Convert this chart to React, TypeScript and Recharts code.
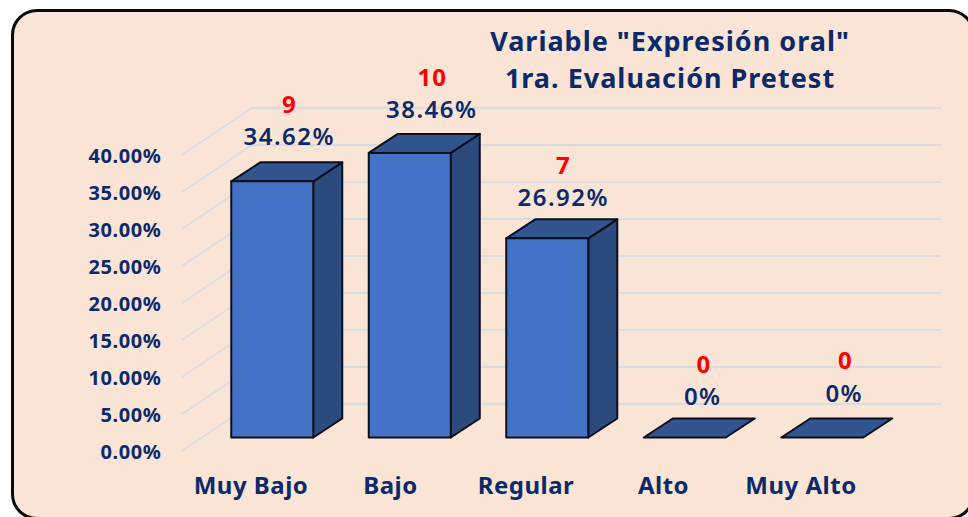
import React from "react";
import { BarChart, Bar, XAxis, YAxis, CartesianGrid, LabelList } from "recharts";

const categories = ["Muy Bajo", "Bajo", "Regular", "Alto", "Muy Alto"];
const percentages = [34.62, 38.46, 26.92, 0, 0];
const counts = [9, 10, 7, 0, 0];
const yTicks = [0, 5, 10, 15, 20, 25, 30, 35, 40];
const titleLines = ['Variable "Expresión oral"', "1ra. Evaluación Pretest"];

const rows = categories.map((cat, i) => ({ cat, pct: percentages[i], count: counts[i] }));

const FONT = "'Noto Sans', sans-serif";
const NAVY = "#0B2A6A";
const DX = 29;
const DY = 19;

// hand placement of the data labels and category labels, relative to each bar
const pctNudgeX = [-1, 4, -2, 0, 4];
const pctNudgeY = [-4, -2, 0, 0, -3];
const countNudgeX = [-2, 3.5, -3, 0, 4];
const countNudgeY = [-5, -3, -1, -1, -5];
const catNudgeX = [0, 2, 0, 0, 0];

const Bar3D = (props: any) => {
  const { x, y, width, height } = props;
  const r = x + width;
  const b = y + height;
  const common = { stroke: "#0a0f1e", strokeWidth: 2, strokeLinejoin: "round" as const };
  return (
    <g>
      {height > 0.5 && (
        <polygon points={`${r},${y} ${r + DX},${y - DY} ${r + DX},${b - DY} ${r},${b}`} fill="#2B4A7E" {...common} />
      )}
      <polygon points={`${x},${y} ${x + DX},${y - DY} ${r + DX},${y - DY} ${r},${y}`} fill="#33558F" {...common} />
      {height > 0.5 && <rect x={x} y={y} width={width} height={height} fill="#4472C4" {...common} />}
    </g>
  );
};

const GridLine = (props: any) => {
  const { y1, index } = props;
  const fx = 182;
  const bx = 252;
  const right = 941;
  const fy = y1 + 13.5;
  const by = y1 - 33.5;
  return (
    <polyline
      key={index}
      points={`${fx},${fy} ${bx},${by} ${right},${by}`}
      fill="none"
      stroke="#DADDE0"
      strokeWidth={2}
    />
  );
};

const YTick = (props: any) => {
  const { y, payload } = props;
  return (
    <text x={161.5} y={y + 13.5} textAnchor="end" dominantBaseline="central" fontFamily={FONT} fontWeight={700} fontSize={20} letterSpacing={0.6} fill={NAVY}>
      {payload.value.toFixed(2)}%
    </text>
  );
};

const XTick = (props: any) => {
  const { x, payload, index } = props;
  return (
    <text x={x - 21 + catNudgeX[index]} y={484} textAnchor="middle" dominantBaseline="central" fontFamily={FONT} fontWeight={700} fontSize={24} letterSpacing={0.5} fill={NAVY}>
      {payload.value}
    </text>
  );
};

const PctLabel = (props: any) => {
  const { x, y, width, value, index } = props;
  const txt = value === 0 ? "0%" : `${value.toFixed(2)}%`;
  return (
    <text x={x + width / 2 + 18 + pctNudgeX[index]} y={y - 42 + pctNudgeY[index]} textAnchor="middle" dominantBaseline="central" fontFamily={FONT} fontWeight={600} fontSize={24} letterSpacing={1.5} fill={NAVY}>
      {txt}
    </text>
  );
};

const CountLabel = (props: any) => {
  const { x, y, width, value, index } = props;
  return (
    <text x={x + width / 2 + 19 + countNudgeX[index]} y={y - 73 + countNudgeY[index]} textAnchor="middle" dominantBaseline="central" fontFamily={FONT} fontWeight={700} fontSize={24} letterSpacing={1} fill="#FF0000">
      {value}
    </text>
  );
};

export default function App() {
  return (
    <div style={{ position: "absolute", left: 0, top: 0, width: 968, height: 517, overflow: "hidden", background: "#fff" }}>
      <div
        style={{
          position: "absolute",
          left: 11,
          top: 9,
          width: 964,
          height: 511,
          boxSizing: "border-box",
          border: "3px solid #0a0a0a",
          borderRadius: 26,
          background: "#FAE4D6",
        }}
      />
      <div style={{ position: "absolute", left: 0, top: 0 }}>
        <BarChart
          width={968}
          height={517}
          data={rows}
          barSize={82}
          margin={{ top: 141.5, right: 77.25, bottom: 49.5, left: 143.25 }}
        >
          <CartesianGrid vertical={false} horizontal={GridLine as any} />
          <XAxis dataKey="cat" height={30} axisLine={false} tickLine={false} tick={XTick as any} interval={0} />
          <YAxis width={60} domain={[0, 40]} ticks={yTicks} axisLine={false} tickLine={false} tick={YTick as any} interval={0} />
          <Bar dataKey="pct" isAnimationActive={false} shape={Bar3D as any}>
            <LabelList dataKey="pct" content={PctLabel as any} />
            <LabelList dataKey="count" content={CountLabel as any} />
          </Bar>
          <text x={670} y={40} textAnchor="middle" dominantBaseline="central" fontFamily={FONT} fontWeight={700} fontSize={27} letterSpacing={1} fill={NAVY}>
            {titleLines[0]}
          </text>
          <text x={670} y={77} textAnchor="middle" dominantBaseline="central" fontFamily={FONT} fontWeight={700} fontSize={27} letterSpacing={1} fill={NAVY}>
            {titleLines[1]}
          </text>
        </BarChart>
      </div>
    </div>
  );
}
